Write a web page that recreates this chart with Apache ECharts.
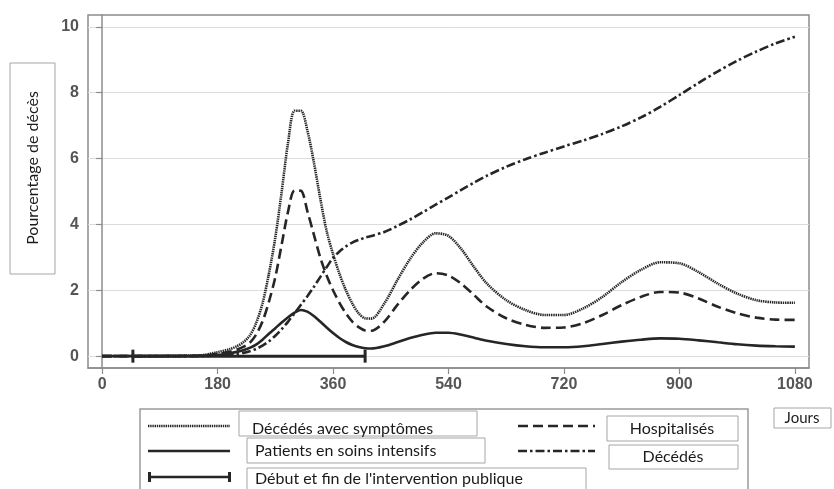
<!DOCTYPE html>
<html>
<head>
<meta charset="utf-8">
<script src="https://cdn.jsdelivr.net/npm/echarts@6/dist/echarts.min.js"></script>
<style>
  html, body { margin: 0; padding: 0; background: #fff; }
  #chart { width: 834px; height: 489px; }
</style>
</head>
<body>
<div id="chart"></div>
<script>
// Days since the start of the epidemic
const days = [0, 150, 180, 200, 210, 220, 230, 240, 250, 260, 270, 280, 290, 300, 310,
  320, 330, 340, 350, 360, 370, 380, 390, 400, 410, 420, 440, 460, 480, 500, 520, 540,
  560, 580, 600, 630, 660, 690, 720, 750, 780, 810, 840, 870, 900, 930, 960, 990, 1020, 1050, 1080];

// Percentage values per series
const symptomaticDeaths = [0, 0.02, 0.12, 0.22, 0.3, 0.42, 0.62, 1.0, 1.6, 2.5, 3.6, 5.0, 6.5, 7.45, 7.45,
  6.85, 5.9, 4.8, 3.8, 3.1, 2.5, 2.0, 1.6, 1.3, 1.15, 1.14, 1.6, 2.3, 2.95, 3.45, 3.73, 3.65,
  3.25, 2.7, 2.2, 1.7, 1.4, 1.25, 1.25, 1.45, 1.8, 2.25, 2.62, 2.85, 2.82, 2.55, 2.2, 1.9, 1.7, 1.63, 1.62];

const hospitalised = [0, 0.01, 0.07, 0.14, 0.2, 0.28, 0.4, 0.65, 1.05, 1.65, 2.4, 3.4, 4.4, 5.03, 5.02,
  4.4, 3.7, 3.0, 2.45, 2.0, 1.62, 1.3, 1.05, 0.88, 0.78, 0.77, 1.05, 1.55, 2.0, 2.35, 2.52, 2.45,
  2.2, 1.85, 1.5, 1.15, 0.95, 0.86, 0.87, 1.0, 1.25, 1.55, 1.8, 1.95, 1.93, 1.75, 1.5, 1.3, 1.17, 1.11, 1.1];

const intensiveCare = [0, 0.01, 0.04, 0.09, 0.13, 0.18, 0.25, 0.35, 0.5, 0.68, 0.85, 1.02, 1.18, 1.32, 1.4,
  1.35, 1.22, 1.05, 0.87, 0.7, 0.55, 0.43, 0.34, 0.28, 0.24, 0.23, 0.3, 0.42, 0.55, 0.65, 0.71, 0.71,
  0.65, 0.56, 0.47, 0.37, 0.3, 0.27, 0.27, 0.3, 0.37, 0.44, 0.5, 0.54, 0.53, 0.48, 0.42, 0.36, 0.32, 0.3, 0.29];

const deaths = [0, 0, 0.02, 0.05, 0.07, 0.1, 0.15, 0.22, 0.32, 0.45, 0.62, 0.82, 1.05, 1.3, 1.56,
  1.82, 2.1, 2.4, 2.7, 2.98, 3.18, 3.33, 3.45, 3.53, 3.6, 3.65, 3.77, 3.95, 4.15, 4.37, 4.6, 4.82,
  5.05, 5.27, 5.48, 5.75, 5.98, 6.18, 6.37, 6.55, 6.75, 6.98, 7.25, 7.57, 7.93, 8.3, 8.65, 8.97, 9.25, 9.5, 9.7];

// Start and end of the public intervention (days)
const interventionDays = [48, 410];

// Axis tick labels
const xTicks = [0, 180, 360, 540, 720, 900, 1080];
const yTicks = [0, 2, 4, 6, 8, 10];

const ink = '#262626';
const dotted = [1.4, 0.8];
const dashed = [10, 5];
const dashDot = [9, 3, 2.5, 3];
const pairs = arr => days.map((d, i) => [d, arr[i]]);

function curve(name, values, dash) {
  return {
    name, type: 'line', data: pairs(values), smooth: 0.3,
    showSymbol: false, symbol: 'none', silent: true, z: 3,
    lineStyle: { color: ink, width: 2.6, type: dash }
  };
}

const legendFont = '16px Lato, "Open Sans", sans-serif';
const tickFont = { color: '#555', fontSize: 16, fontWeight: 'bold', fontFamily: '"Liberation Sans", Arimo, sans-serif', margin: 9, formatter: v => String(v) };

function box(x, y, w, h) {
  return { type: 'rect', shape: { x, y, width: w, height: h },
    style: { fill: '#fff', stroke: '#a6a6a6', lineWidth: 1 }, z: 10 };
}
function label(text, x, y, align, font) {
  return { type: 'text', x, y, z: 11,
    style: { text, font: font || legendFont, fill: '#1a1a1a', textAlign: align || 'left', textVerticalAlign: 'middle' } };
}
function sample(x1, x2, y, dash) {
  return { type: 'line', shape: { x1, y1: y, x2, y2: y }, z: 11,
    style: { stroke: ink, lineWidth: 2.6, lineDash: dash } };
}

const chart = echarts.init(document.getElementById('chart'), null, { renderer: 'canvas' });

chart.setOption({
  animation: false,
  backgroundColor: '#fff',
  grid: { left: 88, right: 25, top: 15, bottom: 121, show: true, borderColor: '#8c8c8c', borderWidth: 1.5, backgroundColor: 'transparent' },
  xAxis: {
    type: 'value', min: -22, max: 1102,
    axisLine: { show: true, onZero: false, lineStyle: { color: '#8c8c8c', width: 1.5 } },
    axisTick: { show: true, length: 6, customValues: xTicks, lineStyle: { color: '#8c8c8c', width: 1.2 } },
    axisLabel: Object.assign({ customValues: xTicks }, tickFont),
    splitLine: { show: false }
  },
  yAxis: {
    type: 'value', min: -0.36, max: 10.36,
    axisLine: { show: true, lineStyle: { color: '#8c8c8c', width: 1.5 } },
    axisTick: { show: true, length: 6, customValues: yTicks, lineStyle: { color: '#8c8c8c', width: 1.2 } },
    axisLabel: Object.assign({ customValues: yTicks }, tickFont),
    splitLine: { show: true, lineStyle: { color: '#dcdcdc', width: 1 } }
  },
  series: [
    curve('Décédés avec symptômes', symptomaticDeaths, dotted),
    curve('Hospitalisés', hospitalised, dashed),
    curve('Patients en soins intensifs', intensiveCare, 'solid'),
    curve('Décédés', deaths, dashDot),
    {
      name: "Début et fin de l'intervention publique", type: 'line', silent: true, z: 4,
      data: interventionDays.map(d => [d, 0]),
      symbol: 'rect', symbolSize: [3, 13], showSymbol: true,
      itemStyle: { color: ink },
      lineStyle: { color: ink, width: 3 }
    }
  ],
  graphic: [
    // y-axis title
    box(10, 63, 45, 211),
    { type: 'text', x: 33, y: 168, rotation: Math.PI / 2, z: 11,
      style: { text: 'Pourcentage de décès', font: '16px Lato, "Open Sans", sans-serif', fill: '#1a1a1a', textAlign: 'center', textVerticalAlign: 'middle' } },
    // x-axis title
    box(774, 408, 57, 20),
    label('Jours', 802, 418, 'center', '15px Lato, "Open Sans", sans-serif'),
    // legend frame
    { type: 'rect', shape: { x: 140, y: 409, width: 608, height: 100 },
      style: { fill: '#fff', stroke: '#9a9a9a', lineWidth: 1.5 }, z: 9 },
    sample(148, 230, 426, dotted),
    sample(148, 230, 451, null),
    sample(149, 230, 477, null),
    { type: 'rect', shape: { x: 148, y: 472, width: 3, height: 10 }, style: { fill: ink }, z: 11 },
    { type: 'rect', shape: { x: 228, y: 472, width: 3, height: 10 }, style: { fill: ink }, z: 11 },
    sample(518, 595, 426, dashed),
    sample(518, 595, 451, dashDot),
    box(239, 411, 238, 25),
    label('Décédés avec symptômes', 252, 429),
    box(247, 438, 238, 25),
    label('Patients en soins intensifs', 255, 451),
    box(247, 468, 339, 30),
    label("Début et fin de l'intervention publique", 255, 479),
    box(607, 416, 131, 25),
    label('Hospitalisés', 672, 429, 'center'),
    box(609, 445, 129, 24),
    label('Décédés', 673, 457, 'center')
  ]
});
</script>
</body>
</html>
